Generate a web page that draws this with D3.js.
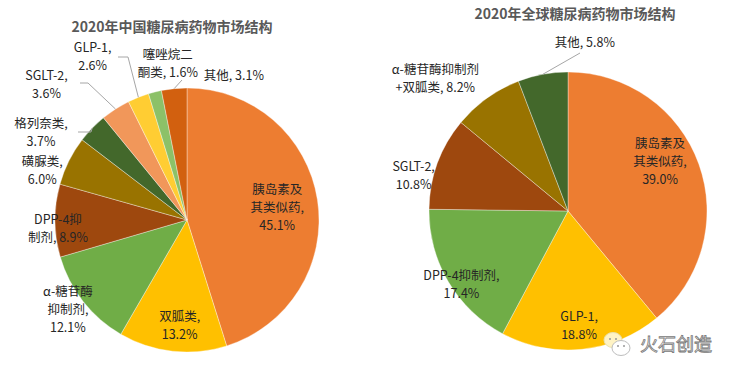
<!DOCTYPE html>
<html>
<head>
<meta charset="utf-8">
<script src="https://cdn.jsdelivr.net/npm/d3@7"></script>
<style>
  body { margin: 0; background: #fff; }
  svg { font-family: "Noto Sans CJK SC", "Noto Sans", sans-serif; }
</style>
</head>
<body>
<svg id="chart"></svg>
<script>
// china market share (%), clockwise from 12 o'clock
const cnNames = ['胰岛素及其类似药', '双胍类', 'α-糖苷酶抑制剂', 'DPP-4抑制剂', '磺脲类',
                 '格列奈类', 'SGLT-2', 'GLP-1', '噻唑烷二酮类', '其他'];
const cnValues = [45.1, 13.2, 12.1, 8.9, 6.0, 3.7, 3.6, 2.6, 1.6, 3.1];
// label line breaks as in the original
const cnLabels = [['胰岛素及', '其类似药,', '45.1%'], ['双胍类,', '13.2%'], ['α-糖苷酶', '抑制剂,', '12.1%'],
                  ['DPP-4抑', '制剂, 8.9%'], ['磺脲类,', '6.0%'], ['格列奈类,', '3.7%'],
                  ['SGLT-2,', '3.6%'], ['GLP-1,', '2.6%'], ['噻唑烷二', '酮类, 1.6%'], ['其他, 3.1%']];

// global market share (%)
const glNames = ['胰岛素及其类似药', 'GLP-1', 'DPP-4抑制剂', 'SGLT-2', 'α-糖苷酶抑制剂+双胍类', '其他'];
const glValues = [39.0, 18.8, 17.4, 10.8, 8.2, 5.8];
const glLabels = [['胰岛素及', '其类似药,', '39.0%'], ['GLP-1,', '18.8%'], ['DPP-4抑制剂,', '17.4%'],
                  ['SGLT-2,', '10.8%'], ['α-糖苷酶抑制剂', '+双胍类, 8.2%'], ['其他, 5.8%']];

const cnTitle = '2020年中国糖尿病药物市场结构';
const glTitle = '2020年全球糖尿病药物市场结构';

const palette = ['#ED7D31', '#FFC000', '#70AD47', '#9E480E', '#997300',
                 '#43682B', '#F1975A', '#FFCD33', '#8CC168', '#D2600F'];

const width = 734;
const height = 377;

const svg = d3.select('#chart')
    .attr('width', width)
    .attr('height', height);

// label placement: [angle in degrees, distance as share of radius]
const cnLayout = [[82, 0.69], [184, 0.80], [233, 1.13], [266, 0.98], [289, 1.16],
                  [301, 1.29], [314, 1.48], [330, 1.43], [353, 1.19], [18, 1.15]];
// leader line bends/ends (absolute x offset from centre, absolute y)
const cnLeader = [null, null, null, null, null, [[-96, 132], [-109, 132]], [[-99, 83], [-107, 83]],
                  [[-59, 57], [-69, 57]], null, [[-5, 80]]];
const glLayout = [[62, 0.75], [174.5, 0.83], [235.5, 0.93], [283, 1.14], [315, 1.35], [5.7, 1.22]];
const glLeader = [null, null, null, null, null, [[12, 53]]];

function drawPie(opts) {
    const {cx, cy, r, values, labels, layout, leaders, title, titleX, titleY} = opts;

    const g = svg.append('g')
        .attr('transform', `translate(${cx},${cy})`);

    const pie = d3.pie()
        .sort(null)
        .value(d => d);
    const arcs = pie(values);

    const arc = d3.arc()
        .innerRadius(0)
        .outerRadius(r);

    // slices
    g.selectAll('path.slice')
        .data(arcs)
        .join('path')
            .attr('class', 'slice')
            .attr('d', arc)
            .attr('fill', (d, i) => palette[i])
            .attr('stroke', '#fff')
            .attr('stroke-opacity', 0.6)
            .attr('stroke-width', 0.6);

    // leader lines: start on the rim at the slice's mid angle
    arcs.forEach((d, i) => {
        if (!leaders[i]) return;
        const a = (d.startAngle + d.endAngle) / 2;
        const pts = [[r * Math.sin(a), -r * Math.cos(a)]]
            .concat(leaders[i].map(p => [p[0], p[1] - cy]));
        g.append('path')
            .attr('d', d3.line()(pts))
            .attr('fill', 'none')
            .attr('stroke', '#A6A6A6')
            .attr('stroke-width', 1);
    });

    // data labels
    const lineH = 18;
    arcs.forEach((d, i) => {
        const ang = layout[i][0] * Math.PI / 180;
        const dist = layout[i][1] * r;
        const x = dist * Math.sin(ang);
        const y = -dist * Math.cos(ang);
        const lines = labels[i];
        const t = g.append('text')
            .attr('text-anchor', 'middle')
            .attr('font-size', 12.5)
            .attr('fill', '#262626');
        lines.forEach((s, k) => {
            t.append('tspan')
                .attr('x', x)
                .attr('y', y + (k - (lines.length - 1) / 2) * lineH)
                .attr('dy', '0.35em')
                .text(s);
        });
    });

    // title
    svg.append('text')
        .attr('x', titleX)
        .attr('y', titleY)
        .attr('text-anchor', 'middle')
        .attr('dy', '0.35em')
        .attr('font-size', 14)
        .attr('font-weight', 'bold')
        .attr('fill', '#595959')
        .text(title);
}

drawPie({cx: 187, cy: 220, r: 132, values: cnValues, labels: cnLabels,
         layout: cnLayout, leaders: cnLeader, title: cnTitle, titleX: 172, titleY: 27});

drawPie({cx: 568, cy: 211, r: 139, values: glValues, labels: glLabels,
         layout: glLayout, leaders: glLeader, title: glTitle, titleX: 575, titleY: 14});

// watermark
const wm = svg.append('g')
    .attr('transform', 'translate(617,344)');
wm.append('ellipse')
    .attr('cx', -4).attr('cy', -4).attr('rx', 9).attr('ry', 7.5)
    .attr('fill', '#FFF3C4').attr('stroke', '#E8E0B0').attr('stroke-width', 1);
wm.append('ellipse')
    .attr('cx', 4).attr('cy', 4).attr('rx', 9).attr('ry', 7.5)
    .attr('fill', '#fff').attr('stroke', '#BDBDBD').attr('stroke-width', 1);
[[-7, -5], [-1, -5], [1, 2], [7, 2]].forEach(p => {
    wm.append('circle').attr('cx', p[0]).attr('cy', p[1]).attr('r', 1)
        .attr('fill', '#999');
});
svg.append('text')
    .attr('x', 676)
    .attr('y', 345)
    .attr('text-anchor', 'middle')
    .attr('dy', '0.35em')
    .attr('font-size', 18)
    .attr('fill', '#fff')
    .attr('stroke', '#777')
    .attr('stroke-width', 0.8)
    .text('火石创造');
</script>
</body>
</html>
